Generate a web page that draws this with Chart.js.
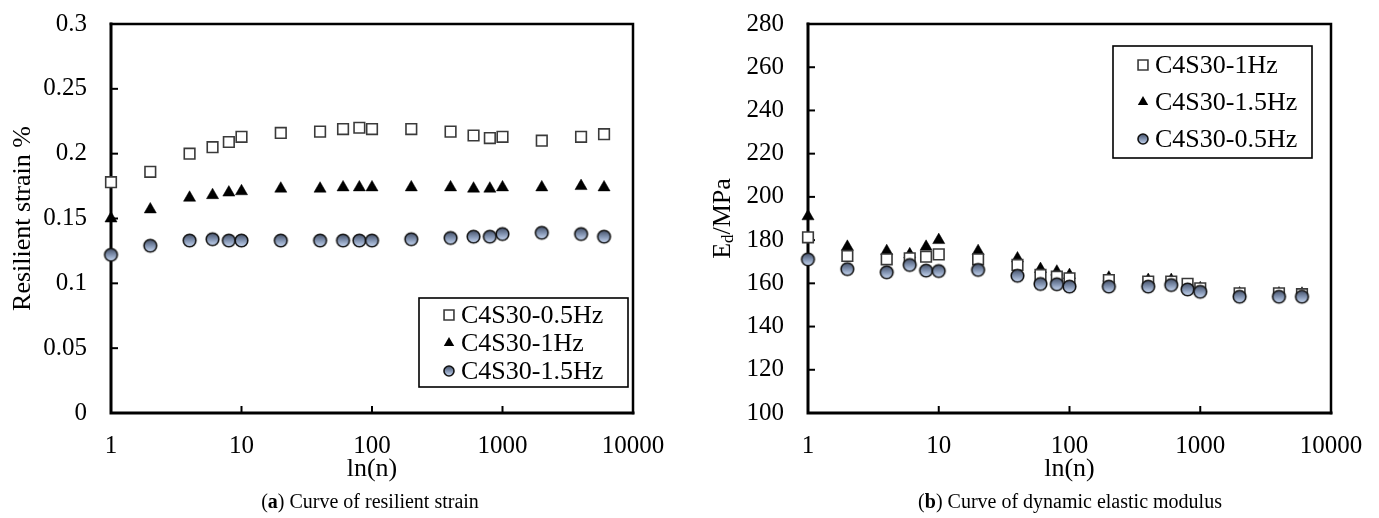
<!DOCTYPE html>
<html><head><meta charset="utf-8">
<script src="https://cdn.jsdelivr.net/npm/chart.js@4.4.1/dist/chart.umd.min.js"></script>
<style>
html,body{margin:0;padding:0;background:#fff;width:1379px;height:518px;overflow:hidden;}
.wrap{position:absolute;top:0;height:518px;}
.cap{position:absolute;top:490px;font-family:"Liberation Serif","Times New Roman",serif;font-size:20px;color:#000;white-space:nowrap;transform:translateX(-50%);}
</style></head><body>
<div class="wrap" style="left:0;width:690px"><canvas id="c1" width="690" height="518"></canvas></div>
<div class="wrap" style="left:690px;width:689px"><canvas id="c2" width="689" height="518"></canvas></div>
<div class="cap" style="left:370px">(<b>a</b>) Curve of resilient strain</div>
<div class="cap" style="left:1070px">(<b>b</b>) Curve of dynamic elastic modulus</div>
<script>
// ---------- data ----------
const cycles = [1,2,4,6,8,10,20,40,60,80,100,200,400,600,800,1000,2000,4000,6000];
const xTickValues = [1,10,100,1000,10000];

// (a) resilient strain %
const strain05Hz = [0.178,0.186,0.200,0.205,0.209,0.213,0.216,0.217,0.219,0.220,0.219,0.219,0.217,0.214,0.212,0.213,0.210,0.213,0.215];
const strain1Hz  = [0.150,0.157,0.166,0.168,0.170,0.171,0.173,0.173,0.174,0.174,0.174,0.174,0.174,0.173,0.173,0.174,0.174,0.175,0.174];
const strain15Hz = [0.122,0.129,0.133,0.134,0.133,0.133,0.133,0.133,0.133,0.133,0.133,0.134,0.135,0.136,0.136,0.138,0.139,0.138,0.136];
const strainTicks = [0,0.05,0.1,0.15,0.2,0.25,0.3];

// (b) dynamic elastic modulus, MPa
const ed1Hz  = [181.3,172.7,171.1,171.6,172.3,173.4,171.1,168.5,163.9,163.1,162.3,161.5,160.8,160.8,159.8,157.7,155.4,155.4,155.0];
const ed15Hz = [191.0,176.9,174.9,173.4,176.9,180.0,174.9,171.5,166.6,165.4,163.8,162.6,161.5,161.5,159.2,157.7,155.3,155.3,155.2];
const ed05Hz = [171.1,166.6,165.1,168.5,165.9,165.7,166.2,163.5,159.7,159.6,158.5,158.5,158.5,159.2,157.2,156.1,153.8,153.8,153.8];
const edTicks = [100,120,140,160,180,200,220,240,260,280];

// ---------- styling helpers ----------
const FONT = '"Liberation Serif","Times New Roman",serif';
function makeCircle(r){
  const s = Math.ceil(2*r+4); const c = document.createElement('canvas'); c.width = c.height = s;
  const g = c.getContext('2d'); const m = s/2;
  const gr = g.createLinearGradient(0, m-r, 0, m+r);
  gr.addColorStop(0,'#46526a'); gr.addColorStop(0.5,'#8293b1'); gr.addColorStop(1,'#c8d8f2');
  g.beginPath(); g.arc(m,m,r,0,Math.PI*2); g.fillStyle = gr; g.fill();
  g.lineWidth = 1.6; g.strokeStyle = '#111'; g.stroke();
  return c;
}
const circleBig = makeCircle(6.3), circleSmall = makeCircle(5);
const styles = {
  square:   {pointStyle:'rect', pointRadius:7.5, backgroundColor:'#fff', borderColor:'#3a3a3a', pointBorderWidth:1.6, legendRadius:7},
  triangle: {pointStyle:'triangle', pointRadius:7, backgroundColor:'#000', borderColor:'#000', pointBorderWidth:0.5, legendRadius:6},
  circle:   {pointStyle:circleBig, pointRadius:6.3, backgroundColor:'#8899b5', borderColor:'#111', pointBorderWidth:1.6, legendStyle:circleSmall}
};
function ds(label, ys, kind, order){
  const s = styles[kind];
  return {label, kind, order, clip:false, showLine:false,
    data: cycles.map((x,i)=>({x, y: ys[i]})),
    pointStyle: s.pointStyle, pointRadius: s.pointRadius, pointHoverRadius: s.pointRadius,
    pointBackgroundColor: s.backgroundColor, pointBorderColor: s.borderColor, pointBorderWidth: s.pointBorderWidth,
    backgroundColor: s.backgroundColor, borderColor: s.borderColor};
}

// ---------- plugin: frame, inner ticks, titles, legend ----------
const framePlugin = {
  id:'frame',
  beforeDatasetsDraw(chart, args, o){
    const {ctx, chartArea:a, scales:{x,y}} = chart;
    ctx.save();
    ctx.strokeStyle = '#000'; ctx.lineCap = 'square';
    ctx.lineWidth = 2.5;
    ctx.beginPath(); ctx.moveTo(a.left, a.top); ctx.lineTo(a.right, a.top); ctx.lineTo(a.right, a.bottom); ctx.stroke();
    ctx.lineWidth = 3;
    ctx.beginPath(); ctx.moveTo(a.left, a.top); ctx.lineTo(a.left, a.bottom); ctx.lineTo(a.right, a.bottom); ctx.stroke();
    ctx.lineWidth = 2; ctx.lineCap = 'butt';
    y.ticks.forEach(t=>{ if (t.value===y.min || t.value===y.max) return;
      const py = y.getPixelForValue(t.value); ctx.beginPath(); ctx.moveTo(a.left, py); ctx.lineTo(a.left+7, py); ctx.stroke(); });
    x.ticks.forEach(t=>{ if (t.value===x.min || t.value===x.max) return;
      const px = x.getPixelForValue(t.value); ctx.beginPath(); ctx.moveTo(px, a.bottom); ctx.lineTo(px, a.bottom-7); ctx.stroke(); });
    // titles
    ctx.fillStyle = '#000'; ctx.textBaseline = 'middle';
    ctx.font = '26px ' + FONT; ctx.textAlign = 'center';
    ctx.fillText(o.xTitle, (a.left+a.right)/2, o.xTitleY);
    ctx.save();
    ctx.translate(o.yTitleX, (a.top+a.bottom)/2); ctx.rotate(-Math.PI/2);
    const parts = o.yTitle;
    let total = 0; parts.forEach(p=>{ ctx.font = p.size+'px '+FONT; p.w = ctx.measureText(p.t).width; total += p.w; });
    let cx = -total/2; ctx.textAlign = 'left';
    parts.forEach(p=>{ ctx.font = p.size+'px '+FONT; ctx.fillText(p.t, cx, p.dy||0); cx += p.w; });
    ctx.restore();
    ctx.restore();
  },
  afterDatasetsDraw(chart, args, o){
    const {ctx, chartArea:a} = chart; const L = o.legend;
    ctx.save();
    const x0 = a.left + L.left, y0 = a.top + L.top;
    ctx.fillStyle = '#fff'; ctx.fillRect(x0, y0, L.w, L.h);
    ctx.lineWidth = 1.6; ctx.strokeStyle = '#000'; ctx.strokeRect(x0, y0, L.w, L.h);
    ctx.font = '26px ' + FONT; ctx.textBaseline = 'middle'; ctx.textAlign = 'left'; ctx.fillStyle = '#000';
    L.items.forEach((idx, i)=>{
      const d = chart.data.datasets[idx]; const s = styles[d.kind];
      const cy = y0 + L.firstRow + i*L.rowH;
      const mx = x0 + L.markerX;
      if (s.legendStyle) Chart.helpers.drawPoint(ctx, {pointStyle: s.legendStyle, radius: 5, borderWidth: 1, rotation:0}, mx, cy);
      ctx.fillStyle = s.backgroundColor; ctx.strokeStyle = s.borderColor; ctx.lineWidth = s.pointBorderWidth;
      ctx.beginPath();
      if (s.pointStyle==='rect'){ const h = s.legendRadius*Math.SQRT1_2; ctx.rect(mx-h, cy-h, 2*h, 2*h); ctx.fill(); ctx.stroke(); }
      else if (s.pointStyle==='triangle'){ const r = s.legendRadius; ctx.moveTo(mx, cy-r); ctx.lineTo(mx+r*0.866, cy+r/2); ctx.lineTo(mx-r*0.866, cy+r/2); ctx.closePath(); ctx.fill(); }
      ctx.fillStyle = '#000';
      ctx.fillText(d.label, x0 + L.textX, cy + 1);
    });
    ctx.restore();
  }
};

function makeChart(id, datasets, yMin, yMax, yStep, yTickVals, yAxisW, padRight, frameOpts){
  return new Chart(document.getElementById(id), {
    type:'scatter',
    data:{datasets},
    options:{
      responsive:false, animation:false, devicePixelRatio:1,
      layout:{padding:{top:24, right:padRight, left:0, bottom:0}},
      plugins:{legend:{display:false}, tooltip:{enabled:false}, frame: frameOpts},
      scales:{
        x:{type:'logarithmic', min:1, max:10000,
           afterBuildTicks: s=>{ s.ticks = xTickValues.map(v=>({value:v})); },
           afterFit: s=>{ s.height = 518 - 413; s.paddingLeft = 0; s.paddingRight = 0; },
           grid:{display:false, drawTicks:false}, border:{display:false},
           ticks:{color:'#000', font:{family:FONT, size:25}, padding:18, maxRotation:0, autoSkip:false, callback:v=>String(v)}},
        y:{min:yMin, max:yMax,
           afterBuildTicks: s=>{ s.ticks = yTickVals.map(v=>({value:v})); },
           afterFit: s=>{ s.width = yAxisW; s.paddingTop = 0; s.paddingBottom = 0; },
           grid:{display:false, drawTicks:false}, border:{display:false},
           ticks:{color:'#000', font:{family:FONT, size:25}, padding:24, stepSize:yStep, autoSkip:false,
                  callback:v=>String(Number(v.toFixed(2)))}}
      }
    },
    plugins:[framePlugin]
  });
}

makeChart('c1', [
  ds('C4S30-0.5Hz', strain05Hz, 'square', 2),
  ds('C4S30-1Hz', strain1Hz, 'triangle', 1),
  ds('C4S30-1.5Hz', strain15Hz, 'circle', 0)
], 0, 0.3, 0.05, strainTicks, 111, 57, {
  xTitle:'ln(n)', xTitleY:469, yTitleX:23,
  yTitle:[{t:'Resilient strain %', size:26}],
  legend:{left:308, top:274, w:209, h:89, firstRow:17, rowH:28, markerX:30, textX:42, items:[0,1,2]}
});

makeChart('c2', [
  ds('C4S30-1Hz', ed1Hz, 'square', 1),
  ds('C4S30-1.5Hz', ed15Hz, 'triangle', 2),
  ds('C4S30-0.5Hz', ed05Hz, 'circle', 0)
], 100, 280, 20, edTicks, 118, 48, {
  xTitle:'ln(n)', xTitleY:469, yTitleX:33,
  yTitle:[{t:'E', size:26},{t:'d', size:17, dy:6},{t:'/MPa', size:26}],
  legend:{left:305, top:22, w:199, h:112, firstRow:19, rowH:37, markerX:30, textX:42, items:[0,1,2]}
});
</script>
</body></html>
